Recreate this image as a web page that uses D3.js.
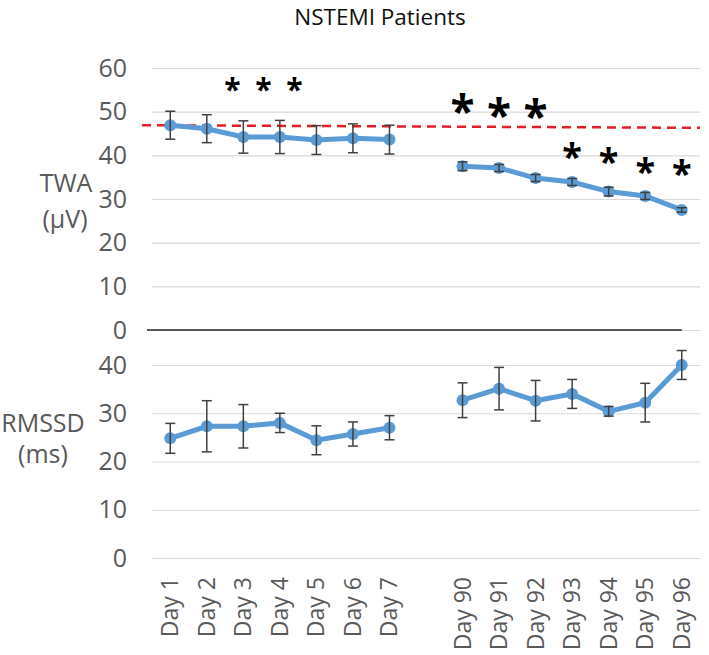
<!DOCTYPE html>
<html>
<head>
<meta charset="utf-8">
<script src="https://cdn.jsdelivr.net/npm/d3@7"></script>
<style>
  body { margin: 0; background: #fff; }
  text { font-family: "Open Sans", sans-serif; }
</style>
</head>
<body>
<div id="chart"></div>
<script>
var svgWidth = 709;
var svgHeight = 655;

// categories (blank slot between the two weeks)
var days = ["Day 1", "Day 2", "Day 3", "Day 4", "Day 5", "Day 6", "Day 7", "",
  "Day 90", "Day 91", "Day 92", "Day 93", "Day 94", "Day 95", "Day 96"];

// TWA (uV) mean and error
var twaMean = [46.9, 46.1, 44.2, 44.2, 43.5, 43.9, 43.6, null,
  37.5, 37.1, 34.8, 33.9, 31.7, 30.7, 27.5];
var twaErr = [3.2, 3.2, 3.7, 3.8, 3.3, 3.3, 3.3, null,
  1.0, 0.8, 0.8, 0.8, 1.0, 0.8, 0.5];

// RMSSD (ms) mean and error
var rmsMean = [24.8, 27.3, 27.3, 28.0, 24.4, 25.7, 27.0, null,
  32.7, 35.1, 32.6, 34.0, 30.4, 32.2, 40.0];
var rmsErr = [3.1, 5.3, 4.5, 2.0, 3.0, 2.5, 2.5, null,
  3.6, 4.4, 4.2, 3.0, 1.0, 4.0, 3.0];

// red dashed reference line (value at left end, right end)
var refLine = [46.9, 46.3];

// significance stars: category position (index), TWA value, size
var starPos = [1.7, 2.55, 3.4, 8, 9, 10, 11, 12, 13, 14];
var starVal = [55.6, 55.6, 55.6, 51.0, 49.9, 49.7, 40.5, 39.4, 37.1, 36.6];
var starSize = [30, 30, 30, 44, 44, 44, 36, 36, 36, 36];

var twaTicks = [0, 10, 20, 30, 40, 50, 60];
var rmsTicks = [0, 10, 20, 30, 40];

var plotLeft = 152, plotRight = 700;

var svg = d3.select("#chart")
  .append("svg")
    .attr("width", svgWidth)
    .attr("height", svgHeight);

var x = d3.scalePoint()
  .domain(days)
  .range([plotLeft, plotRight])
  .padding(0.5);

var yTwa = d3.scaleLinear().domain([0, 60]).range([330, 68]);
var yRms = d3.scaleLinear().domain([0, 40]).range([558, 365]);

var gray = "#595959";
var blue = "#5b9bd5";

// title
svg.append("text")
  .attr("x", 380)
  .attr("y", 25)
  .attr("text-anchor", "middle")
  .attr("font-size", 22.5)
  .attr("fill", "#111")
  .text("NSTEMI Patients");

function drawAxis(y, ticks) {
  var g = svg.append("g")
    .attr("transform", `translate(${plotLeft}, 0)`)
    .call(d3.axisLeft(y).tickValues(ticks).tickSize(-(plotRight - plotLeft)).tickPadding(25));
  g.select(".domain").remove();
  g.selectAll(".tick line").attr("stroke", "#d9d9d9").attr("stroke-width", 1.2);
  g.selectAll(".tick text")
    .attr("fill", gray)
    .attr("font-size", 25)
    .attr("font-family", "Open Sans, sans-serif");
}
drawAxis(yTwa, twaTicks);
drawAxis(yRms, rmsTicks);

// black zero line of TWA panel
svg.append("line")
  .attr("x1", 147).attr("x2", x("Day 96"))
  .attr("y1", yTwa(0)).attr("y2", yTwa(0))
  .attr("stroke", "#222").attr("stroke-width", 1.5);

// axis titles
svg.append("text").attr("x", 66).attr("y", 192).attr("text-anchor", "middle")
  .attr("font-size", 25).attr("fill", gray).text("TWA");
svg.append("text").attr("x", 65).attr("y", 228).attr("text-anchor", "middle")
  .attr("font-size", 25).attr("fill", gray).text("(µV)");
svg.append("text").attr("x", 43).attr("y", 432).attr("text-anchor", "middle")
  .attr("font-size", 25).attr("fill", gray).text("RMSSD");
svg.append("text").attr("x", 43).attr("y", 463).attr("text-anchor", "middle")
  .attr("font-size", 25).attr("fill", gray).text("(ms)");

// x labels
svg.append("g").selectAll("text")
  .data(days.filter(d => d !== ""))
  .enter()
  .append("text")
    .attr("transform", d => `translate(${x(d) + 8}, 577) rotate(-90)`)
    .attr("text-anchor", "end")
    .attr("font-size", 23)
    .attr("fill", gray)
    .text(d => d);

// reference line
svg.append("line")
  .attr("x1", 142).attr("x2", plotRight)
  .attr("y1", yTwa(refLine[0])).attr("y2", yTwa(refLine[1]))
  .attr("stroke", "#e31e24")
  .attr("stroke-width", 2.5)
  .attr("stroke-dasharray", "9,6");

function drawSeries(y, mean, err) {
  var pts = days.map((d, i) => ({day: d, v: mean[i], e: err[i]}));
  var g = svg.append("g");

  var line = d3.line()
    .defined(d => d.v !== null)
    .x(d => x(d.day))
    .y(d => y(d.v));

  g.append("path")
    .datum(pts)
    .attr("d", line)
    .attr("fill", "none")
    .attr("stroke", blue)
    .attr("stroke-width", 5);

  var valid = pts.filter(d => d.v !== null);

  g.selectAll("circle")
    .data(valid)
    .enter()
    .append("circle")
      .attr("cx", d => x(d.day))
      .attr("cy", d => y(d.v))
      .attr("r", 6)
      .attr("fill", blue);

  var eb = g.selectAll(".err")
    .data(valid)
    .enter()
    .append("g")
      .attr("class", "err")
      .attr("stroke", "#404040")
      .attr("stroke-width", 1.5);
  eb.append("line")
    .attr("x1", d => x(d.day)).attr("x2", d => x(d.day))
    .attr("y1", d => y(d.v + d.e)).attr("y2", d => y(d.v - d.e));
  eb.append("line")
    .attr("x1", d => x(d.day) - 5).attr("x2", d => x(d.day) + 5)
    .attr("y1", d => y(d.v + d.e)).attr("y2", d => y(d.v + d.e));
  eb.append("line")
    .attr("x1", d => x(d.day) - 5).attr("x2", d => x(d.day) + 5)
    .attr("y1", d => y(d.v - d.e)).attr("y2", d => y(d.v - d.e));
}
drawSeries(yTwa, twaMean, twaErr);
drawSeries(yRms, rmsMean, rmsErr);

// significance stars
var step = x.step();
svg.append("g").selectAll("text")
  .data(starPos.map((p, i) => ({p: p, v: starVal[i], s: starSize[i]})))
  .enter()
  .append("text")
    .attr("x", d => x(days[0]) + d.p * step)
    .attr("y", d => yTwa(d.v))
    .attr("dy", "0.44em")
    .attr("text-anchor", "middle")
    .attr("font-size", d => d.s)
    .attr("font-weight", "bold")
    .attr("font-family", "DejaVu Sans, sans-serif")
    .attr("fill", "#000")
    .text("*");
</script>
</body>
</html>
